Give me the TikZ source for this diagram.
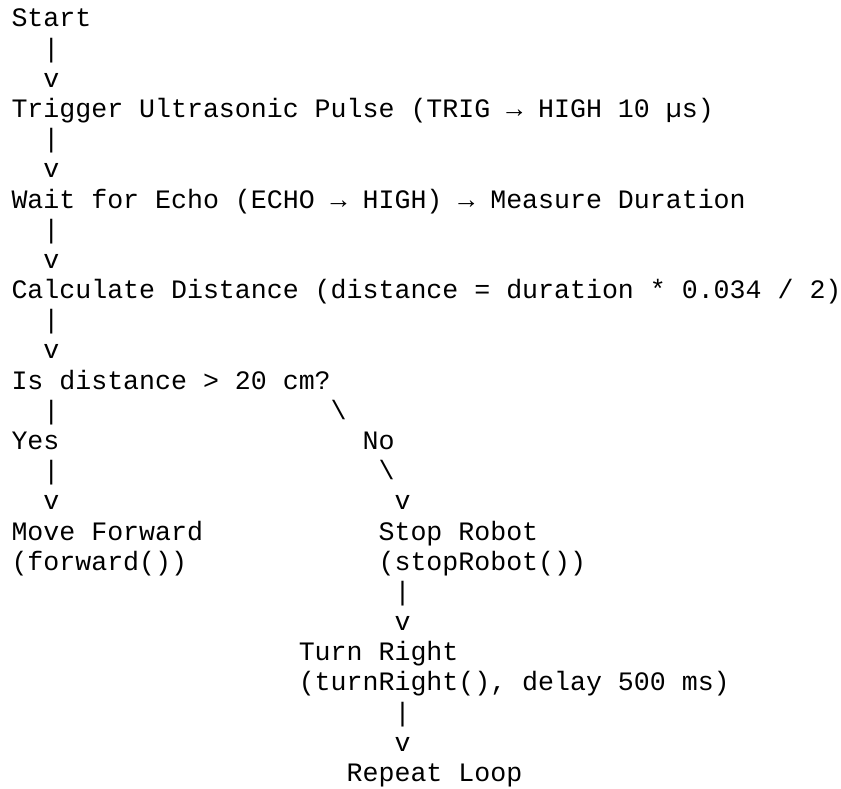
\documentclass[tikz,border=0pt]{standalone}
\usepackage{fontspec}
\newfontfamily\asciimono{Liberation Mono}
\tikzset{
  txt/.style={inner sep=0pt, outer sep=0pt, anchor=base west,
    font=\asciimono\fontsize{19.95pt}{24pt}\selectfont, text=black}
}
% #1 name, #2 column, #3 line, #4 text
\newcommand\asciiput[4]{\node[txt] (#1) at ({11.5+15.96*#2},{27+30.18*(#3-1)}) {#4};}
\begin{document}
\begin{tikzpicture}[x=0.75pt,y=-0.75pt]
\useasboundingbox (0,0) rectangle (841,788);
\asciiput{start}{0}{1}{Start}
\asciiput{b1}{2}{2}{|}
\asciiput{v1}{2}{3}{v}
\asciiput{trig}{0}{4}{Trigger Ultrasonic Pulse (TRIG → HIGH 10 µs)}
\asciiput{b2}{2}{5}{|}
\asciiput{v2}{2}{6}{v}
\asciiput{wait}{0}{7}{Wait for Echo (ECHO → HIGH) → Measure Duration}
\asciiput{b3}{2}{8}{|}
\asciiput{v3}{2}{9}{v}
\asciiput{calc}{0}{10}{Calculate Distance (distance = duration * 0.034 / 2)}
\asciiput{b4}{2}{11}{|}
\asciiput{v4}{2}{12}{v}
\asciiput{dec}{0}{13}{Is distance > 20 cm?}
\asciiput{b5}{2}{14}{|}
\asciiput{s1}{20}{14}{\textbackslash}
\asciiput{yes}{0}{15}{Yes}
\asciiput{no}{22}{15}{No}
\asciiput{b6}{2}{16}{|}
\asciiput{s2}{23}{16}{\textbackslash}
\asciiput{v5}{2}{17}{v}
\asciiput{v6}{24}{17}{v}
\asciiput{fwd}{0}{18}{Move Forward}
\asciiput{fwdc}{0}{19}{(forward())}
\asciiput{stop}{23}{18}{Stop Robot}
\asciiput{stopc}{23}{19}{(stopRobot())}
\asciiput{b7}{24}{20}{|}
\asciiput{v7}{24}{21}{v}
\asciiput{turn}{18}{22}{Turn Right}
\asciiput{turnc}{18}{23}{(turnRight(), delay 500 ms)}
\asciiput{b8}{24}{24}{|}
\asciiput{v8}{24}{25}{v}
\asciiput{rep}{21}{26}{Repeat Loop}
\end{tikzpicture}
\end{document}
